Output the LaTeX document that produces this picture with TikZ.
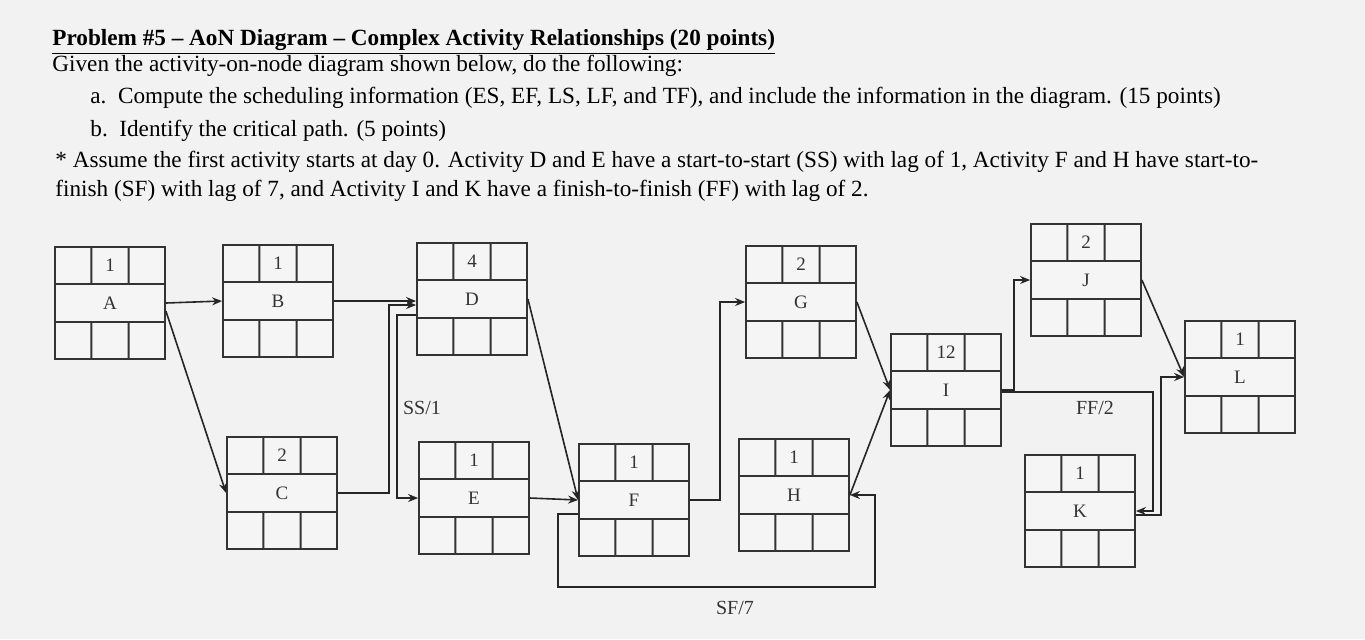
\documentclass[tikz,border=0pt]{standalone}
\usepackage{fontspec}
\setmainfont{Liberation Serif}
\usetikzlibrary{calc,arrows.meta}
\tikzset{
  actbox/.style={draw=black!80, line width=0.9pt, minimum width=110*0.5pt, minimum height=112*0.5pt, inner sep=0pt, fill=white!92!gray},
  conn/.style={draw=black!85, line width=0.8pt, -{Stealth[length=5pt,width=4pt]}},
  lbl/.style={font=\fontsize{9.5}{11}\selectfont, text=black!80},
  title/.style={anchor=west, font=\fontsize{11.6}{13}\selectfont, inner sep=0pt}
}
\newcommand\actbox[4]{%
  \node[actbox] (#1) at (#2) {};
  \draw[line width=0.9pt, black!80] ($(#1.north west)!1/3!(#1.south west)$) -- ($(#1.north east)!1/3!(#1.south east)$)
    ($(#1.north west)!2/3!(#1.south west)$) -- ($(#1.north east)!2/3!(#1.south east)$)
    ($(#1.north west)!1/3!(#1.north east)$) -- ($($(#1.north west)!1/3!(#1.north east)$)!1/3!($(#1.south west)!1/3!(#1.south east)$)$)
    ($(#1.north west)!2/3!(#1.north east)$) -- ($($(#1.north west)!2/3!(#1.north east)$)!1/3!($(#1.south west)!2/3!(#1.south east)$)$)
    ($(#1.south west)!1/3!(#1.south east)$) -- ($($(#1.south west)!1/3!(#1.south east)$)!1/3!($(#1.north west)!1/3!(#1.north east)$)$)
    ($(#1.south west)!2/3!(#1.south east)$) -- ($($(#1.south west)!2/3!(#1.south east)$)!1/3!($(#1.north west)!2/3!(#1.north east)$)$);
  \node[lbl] at ($(#1.north)!1/6!(#1.south)$) {#3};
  \node[lbl] at (#1.center) {#4};
}
\begin{document}
\begin{tikzpicture}[x=0.5pt,y=-0.5pt]
\fill[white!90!gray] (0,0) rectangle (1365,639);
\useasboundingbox (0,0) rectangle (1365,639);
\node[title, font=\fontsize{11.6}{13}\selectfont\bfseries] (t0) at (52,42) {\underline{Problem \#5 -- AoN Diagram -- Complex Activity Relationships (20 points)}};
\node[title] (t1) at (52,66) {Given the activity-on-node diagram shown below, do the following:};
\node[title] (t2) at (90,98) {a.\ \ Compute the scheduling information (ES, EF, LS, LF, and TF), and include the information in the diagram. (15 points)};
\node[title] (t3) at (90,131) {b.\ \ Identify the critical path. (5 points)};
\node[title] (t4) at (55,162) {* Assume the first activity starts at day 0. Activity D and E have a start-to-start (SS) with lag of 1, Activity F and H have start-to-};
\node[title] (t5) at (55,191) {finish (SF) with lag of 7, and Activity I and K have a finish-to-finish (FF) with lag of 2.};

\actbox{A}{110,303}{1}{A}
\actbox{B}{278,301}{1}{B}
\actbox{C}{282,493}{2}{C}
\actbox{D}{472,299}{4}{D}
\actbox{E}{474,498}{1}{E}
\actbox{F}{634,500}{1}{F}
\actbox{G}{801,302}{2}{G}
\actbox{H}{794,495}{1}{H}
\actbox{I}{946,390}{12}{I}
\actbox{J}{1086,280}{2}{J}
\actbox{K}{1080,511}{1}{K}
\actbox{L}{1240,377}{1}{L}

\coordinate (sfc) at (875,587);
\draw[conn] (A.east) -- (B.west);
\draw[conn] ($(A.east)+(0,8)$) -- (C.west);
\draw[conn] (B.east) -- (B.east -| D.west);
\draw[conn] (C.east) -- ($(C.east)+(51,0)$) |- ($(D.west)+(0,6)$);
\draw[conn] ($(D.west)+(0,16)$) -- ++(-19,0) |- (E.west);
\draw[conn] (D.east) -- (F.west);
\draw[conn] (E.east) -- (F.west);
\draw[conn] (F.east) -- ++(30,0) |- (G.west);
\draw[conn] (G.east) -- (I.west);
\draw[conn] (H.east) -- (I.west);
\draw[conn] ($(F.west)+(0,14)$) -| ++(-20,73) -| (sfc) |- (H.east);
\draw[conn] (I.east) -- ++(12,0) |- (J.west);
\draw[conn] ($(I.east)+(0,2)$) -| ($(K.east)+(17,0)$) -- (K.east);
\draw[conn] ($(K.east)+(0,4)$) -- ++(25,0) |- (L.west);
\draw[conn] (J.east) -- (L.west);

\node[lbl, font=\fontsize{10}{12}\selectfont] (ss) at (422,408) {SS/1};
\node[lbl, font=\fontsize{10}{12}\selectfont] (ff) at (1095,408) {FF/2};
\node[lbl, font=\fontsize{10}{12}\selectfont] (sf) at (735,608) {SF/7};
\end{tikzpicture}
\end{document}
